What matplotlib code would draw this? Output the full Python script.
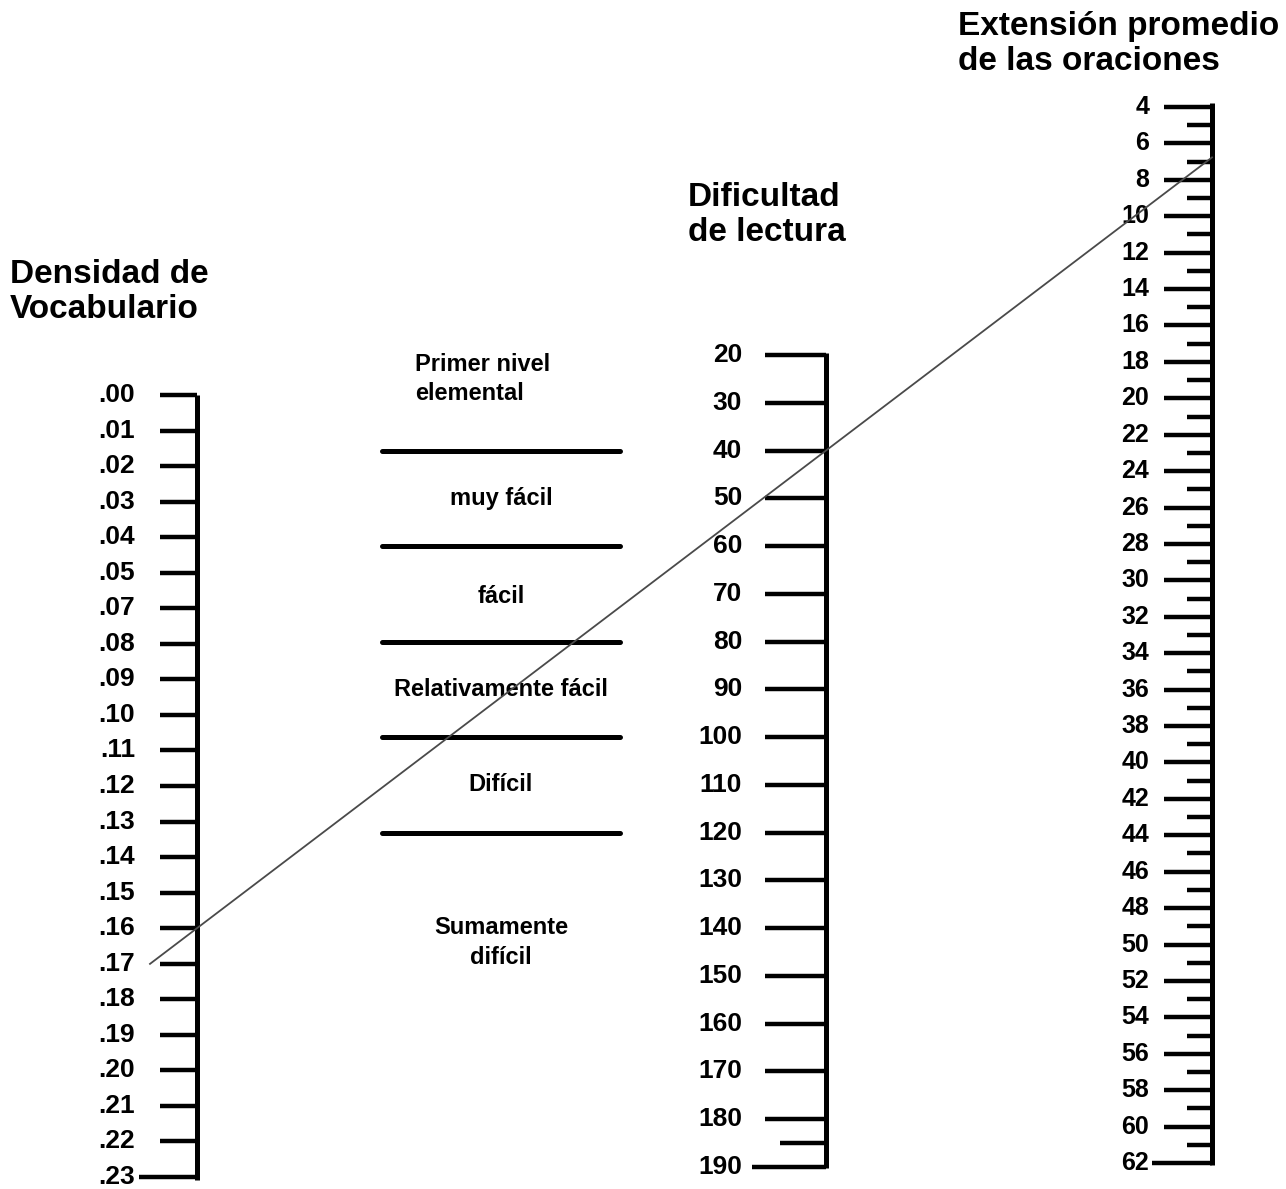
import matplotlib
matplotlib.use("Agg")
import matplotlib.pyplot as plt
from matplotlib.lines import Line2D

plt.rcParams["font.family"] = ["Liberation Sans", "DejaVu Sans"]

# ---------------------------------------------------------------- data
density_labels = [".00", ".01", ".02", ".03", ".04", ".05", ".07", ".08", ".09",
                  ".10", ".11", ".12", ".13", ".14", ".15", ".16", ".17", ".18",
                  ".19", ".20", ".21", ".22", ".23"]
difficulty_ticks = [20, 30, 40, 50, 60, 70, 80, 90, 100, 110, 120, 130, 140,
                    150, 160, 170, 180, 190]
difficulty_extra = [185]
length_major = list(range(4, 63, 2))
length_minor = list(range(5, 62, 2))

band_edges = [40, 60, 80, 100, 120]
band_names = ["Primer nivel\nelemental", "muy fácil", "fácil",
              "Relativamente fácil", "Difícil", "Sumamente\ndifícil"]
band_label_at = [25, 50, 70.5, 90, 110, 143]

example_density = ".16"
example_difficulty = 40

# ---------------------------------------------------------------- canvas
W, H = 1286, 1189
fig = plt.figure(figsize=(W / 100, H / 100), dpi=100)
fig.patch.set_facecolor("white")

LW_AX = 3.6
LW_TK = 3.2


def scale_axes(spine_px, top_px, bot_px, top_val, bot_val, width_px):
    """axes whose x is a pixel offset from the scale bar and y is the scale value"""
    ax = fig.add_axes([(spine_px - width_px) / W, 1 - bot_px / H,
                       (width_px + 10) / W, (bot_px - top_px) / H])
    ax.set_xlim(-width_px, 10)
    ax.set_ylim(bot_val, top_val)
    ax.axis("off")
    return ax


# ---------------------------------------------------------------- left scale: density
n = len(density_labels)
ax_l = scale_axes(197, 395, 1177, 0, n - 1, 190)
pos_l = list(range(n))
ax_l.vlines(0, 0, n - 1 + 0.08, color="black", lw=LW_AX, clip_on=False)
ax_l.hlines(pos_l[:-1], -37, 0, color="black", lw=LW_TK, clip_on=False)
ax_l.hlines(pos_l[-1], -58, 0, color="black", lw=LW_TK, clip_on=False)
for p, lab in zip(pos_l, density_labels):
    ax_l.text(-62, p, lab, ha="right", va="center", fontsize=19,
              fontweight="bold", clip_on=False)

# ---------------------------------------------------------------- middle scale: difficulty
ax_m = scale_axes(826, 355, 1167, 20, 190, 460)
ax_m.vlines(0, 19.5, 190.3, color="black", lw=LW_AX, clip_on=False)
ax_m.hlines(difficulty_ticks[:-1], -61, 0, color="black", lw=LW_TK, clip_on=False)
ax_m.hlines(difficulty_ticks[-1], -74, 0, color="black", lw=LW_TK, clip_on=False)
ax_m.hlines(difficulty_extra, -46, 0, color="black", lw=LW_TK, clip_on=False)
for v in difficulty_ticks:
    ax_m.text(-84, v, str(v), ha="right", va="center", fontsize=19,
              fontweight="bold", clip_on=False)

# reading-level bands
ax_m.hlines(band_edges, -444, -206, color="black", lw=3.6, capstyle="round", clip_on=False)
for name, v in zip(band_names, band_label_at):
    first = name.startswith("Primer")
    ax_m.text(-343 if first else -325, v, name, ha="center", va="center",
              multialignment="left" if first else "center",
              fontsize=17, fontweight="bold", linespacing=1.35, clip_on=False)

# ---------------------------------------------------------------- right scale: sentence length
ax_r = scale_axes(1212, 107, 1163, 4, 62, 130)
ax_r.vlines(0, 3.8, 62.1, color="black", lw=LW_AX, clip_on=False)
ax_r.hlines(length_major[:-1], -48, 0, color="black", lw=LW_TK, clip_on=False)
ax_r.hlines(length_major[-1], -60, 0, color="black", lw=LW_TK, clip_on=False)
ax_r.hlines(length_minor, -25, 0, color="black", lw=LW_TK, clip_on=False)
for v in length_major:
    ax_r.text(-63, v, str(v), ha="right", va="center", fontsize=18,
              fontweight="bold", clip_on=False)

# ---------------------------------------------------------------- example line through the scales
p1 = ax_l.transData.transform((0, density_labels.index(example_density)))
p2 = ax_m.transData.transform((0, example_difficulty))
x_end = ax_r.transData.transform((0, 4))[0]
slope = (p2[1] - p1[1]) / (p2[0] - p1[0])
x0 = p1[0] - 47
pts = [(x0, p1[1] + slope * (x0 - p1[0])), (x_end, p1[1] + slope * (x_end - p1[0]))]
pts = fig.transFigure.inverted().transform(pts)
fig.add_artist(Line2D(pts[:, 0], pts[:, 1], transform=fig.transFigure,
                      color="#4a4a4a", lw=1.3, zorder=10))

# ---------------------------------------------------------------- scale titles
title_kw = dict(fontsize=24, fontweight="bold", va="top", ha="left", linespacing=1.15)
fig.text(10 / W, 1 - 259 / H, "Densidad de\nVocabulario", **title_kw)
fig.text(688 / W, 1 - 182 / H, "Dificultad\nde lectura", **title_kw)
fig.text(958 / W, 1 - 11 / H, "Extensión promedio\nde las oraciones", **title_kw)

fig.savefig("out.png", dpi=100, facecolor="white")
